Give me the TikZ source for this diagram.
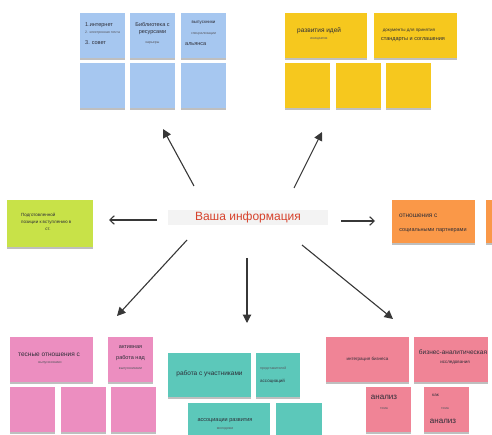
\documentclass[tikz,border=0pt]{standalone}
\usepackage{fontspec}
\setmainfont{Liberation Sans}
\usetikzlibrary{positioning,shadows,arrows.meta}

\begin{document}
\begin{tikzpicture}
    [x=1pt,y=-1pt,
    % Styles
    note/.style={minimum width=45,minimum height=45,inner sep=0,anchor=north west,
      drop shadow={shadow xshift=0pt,shadow yshift=-1.8pt,opacity=0.25,fill=black}},
    wide note/.style={note,minimum width=83},
    large/.style={font=\fontsize{8}{9}\selectfont,text=notetext,inner sep=0},
    big/.style={font=\fontsize{6.5}{7}\selectfont,text=notetext,inner sep=0},
    mid/.style={font=\fontsize{5.5}{6}\selectfont,text=notetext,inner sep=0},
    small/.style={font=\fontsize{4.5}{5}\selectfont,text=notetext,inner sep=0},
    tiny/.style={font=\fontsize{3.5}{4}\selectfont,text=notetext!80,inner sep=0},
    arrow/.style={draw=arrowcolor,line width=1.1pt,-{Triangle[length=8.5pt,width=8.5pt]}},
    open arrow/.style={draw=arrowcolor,line width=1.1pt,-{Straight Barb[length=4.5pt,width=8.5pt]}}]

    % Colors
    \definecolor{bluenote}{RGB}{166,199,240}
    \definecolor{yellownote}{RGB}{246,200,30}
    \definecolor{greennote}{RGB}{200,226,72}
    \definecolor{orangenote}{RGB}{250,152,72}
    \definecolor{pinknote}{RGB}{236,142,192}
    \definecolor{tealnote}{RGB}{92,200,186}
    \definecolor{rednote}{RGB}{240,132,150}
    \definecolor{infocolor}{RGB}{214,66,44}
    \definecolor{infobg}{RGB}{243,243,243}
    \definecolor{arrowcolor}{RGB}{55,55,55}
    \definecolor{notetext}{RGB}{45,45,55}

    % Picture size
    \useasboundingbox (0,0) rectangle (492,435);

    % Centre
    \node[fill=infobg,minimum width=160,minimum height=15,inner sep=0,
      font=\fontsize{12}{14}\selectfont,text=infocolor] (info) at (248,217.5) {Ваша информация};

    % Blue notes (top left)
    \foreach \x/\n in {80/1,130/2,181/3}
      \node[note,fill=bluenote] (blue\n) at (\x,13) {};
    \foreach \x/\n in {80/4,130/5,181/6}
      \node[note,fill=bluenote] (blue\n) at (\x,63) {};
    \node[mid,anchor=west] (blue1a) at (85,25) {1.интернет};
    \node[tiny,anchor=west] (blue1b) at (85,33) {2. электронная почта};
    \node[mid,anchor=west] (blue1c) at (85,43) {3. совет};
    \node[mid] (blue2a) at (152.5,25) {Библиотека с};
    \node[mid] (blue2b) at (152.5,33) {ресурсами};
    \node[tiny] (blue2c) at (152.5,43) {карьеры};
    \node[small] (blue3a) at (203.5,23) {выпускники};
    \node[tiny] (blue3b) at (203.5,34) {специализации};
    \node[mid,anchor=west] (blue3c) at (185,44) {альянса};

    % Yellow notes (top right)
    \node[wide note,fill=yellownote,minimum width=82] (yellow1) at (285,13) {};
    \node[wide note,fill=yellownote] (yellow2) at (374,13) {};
    \foreach \x/\n in {285/3,336/4,386/5}
      \node[note,fill=yellownote] (yellow\n) at (\x,63) {};
    \node[big,anchor=west] (yellow1a) at (297,31) {развития идей};
    \node[tiny] (yellow1b) at (319,39) {инициатив};
    \node[small] (yellow2a) at (409,31) {документы для принятия};
    \node[mid] (yellow2b) at (413,40) {стандарты и соглашения};

    % Green note (left)
    \node[wide note,fill=greennote,minimum width=86,minimum height=47] (green) at (7,200) {};
    \node[small,anchor=west] (green1) at (21,215) {Подготовленной};
    \node[small,anchor=west] (green2) at (21,223) {позиции к вступлению в};
    \node[small] (green3) at (48,229) {ст.};

    % Orange notes (right)
    \node[wide note,fill=orangenote,minimum height=43] (orange1) at (392,200) {};
    \node[note,fill=orangenote,minimum height=43] (orange2) at (486,200) {};
    \node[big,anchor=west] (orange1a) at (399,216) {отношения с};
    \node[mid] (orange1b) at (433,231) {социальными партнерами};

    % Pink notes (bottom left)
    \node[wide note,fill=pinknote] (pink1) at (10,337) {};
    \node[note,fill=pinknote] (pink2) at (108,337) {};
    \foreach \x/\n in {10/3,61/4,111/5}
      \node[note,fill=pinknote] (pink\n) at (\x,387) {};
    \node[big,anchor=west] (pink1a) at (18,355) {тесные отношения с};
    \node[tiny] (pink1b) at (50,363) {выпускниками};
    \node[mid] (pink2a) at (130.5,347) {активная};
    \node[mid] (pink2b) at (130.5,358) {работа над};
    \node[tiny] (pink2c) at (130.5,369) {выпускниками};

    % Teal notes (bottom middle)
    \node[wide note,fill=tealnote,minimum height=44] (teal1) at (168,353) {};
    \node[note,fill=tealnote,minimum width=44,minimum height=44] (teal2) at (256,353) {};
    \node[wide note,fill=tealnote,minimum width=82] (teal3) at (188,403) {};
    \node[note,fill=tealnote,minimum width=46] (teal4) at (276,403) {};
    \node[big] (teal1a) at (209.5,374) {работа с участниками};
    \node[tiny,anchor=west] (teal2a) at (260,369) {представителей};
    \node[small,anchor=west] (teal2b) at (260,381) {ассоциаций};
    \node[mid] (teal3a) at (225,421) {ассоциации развития};
    \node[tiny] (teal3b) at (225,429) {молодежи};

    % Red notes (bottom right)
    \node[wide note,fill=rednote] (red1) at (326,337) {};
    \node[wide note,fill=rednote,minimum width=74] (red2) at (414,337) {};
    \node[note,fill=rednote] (red3) at (366,387) {};
    \node[note,fill=rednote] (red4) at (424,387) {};
    \node[small] (red1a) at (367.5,359) {интеграция бизнеса};
    \node[big] (red2a) at (453,352) {бизнес-аналитическая};
    \node[small] (red2b) at (455,363) {исследования};
    \node[large] (red3a) at (384,397) {анализ};
    \node[tiny] (red3b) at (384,409) {тема};
    \node[small,anchor=west] (red4a) at (432,395) {как};
    \node[tiny] (red4b) at (445,409) {тема};
    \node[large] (red4c) at (443,421) {анализ};

    % Arrow ends
    \coordinate (ul tail) at (194,186);  \coordinate (ul tip) at (163,129);
    \coordinate (ur tail) at (294,188);  \coordinate (ur tip) at (322,132);
    \coordinate (l tail) at (157,220);   \coordinate (l tip) at (109,220);
    \coordinate (r tail) at (341,221);   \coordinate (r tip) at (375,221);
    \coordinate (dl tail) at (187,240);  \coordinate (dl tip) at (117,316);
    \coordinate (d tail) at (247,258);   \coordinate (d tip) at (247,323);
    \coordinate (dr tail) at (302,245);  \coordinate (dr tip) at (393,319);

    % Arrows
    \draw[arrow] (ul tail) -- (ul tip);
    \draw[arrow] (ur tail) -- (ur tip);
    \draw[open arrow] (l tail) -- (l tip);
    \draw[open arrow] (r tail) -- (r tip);
    \draw[arrow] (dl tail) -- (dl tip);
    \draw[arrow] (d tail) -- (d tip);
    \draw[arrow] (dr tail) -- (dr tip);
\end{tikzpicture}
\end{document}
